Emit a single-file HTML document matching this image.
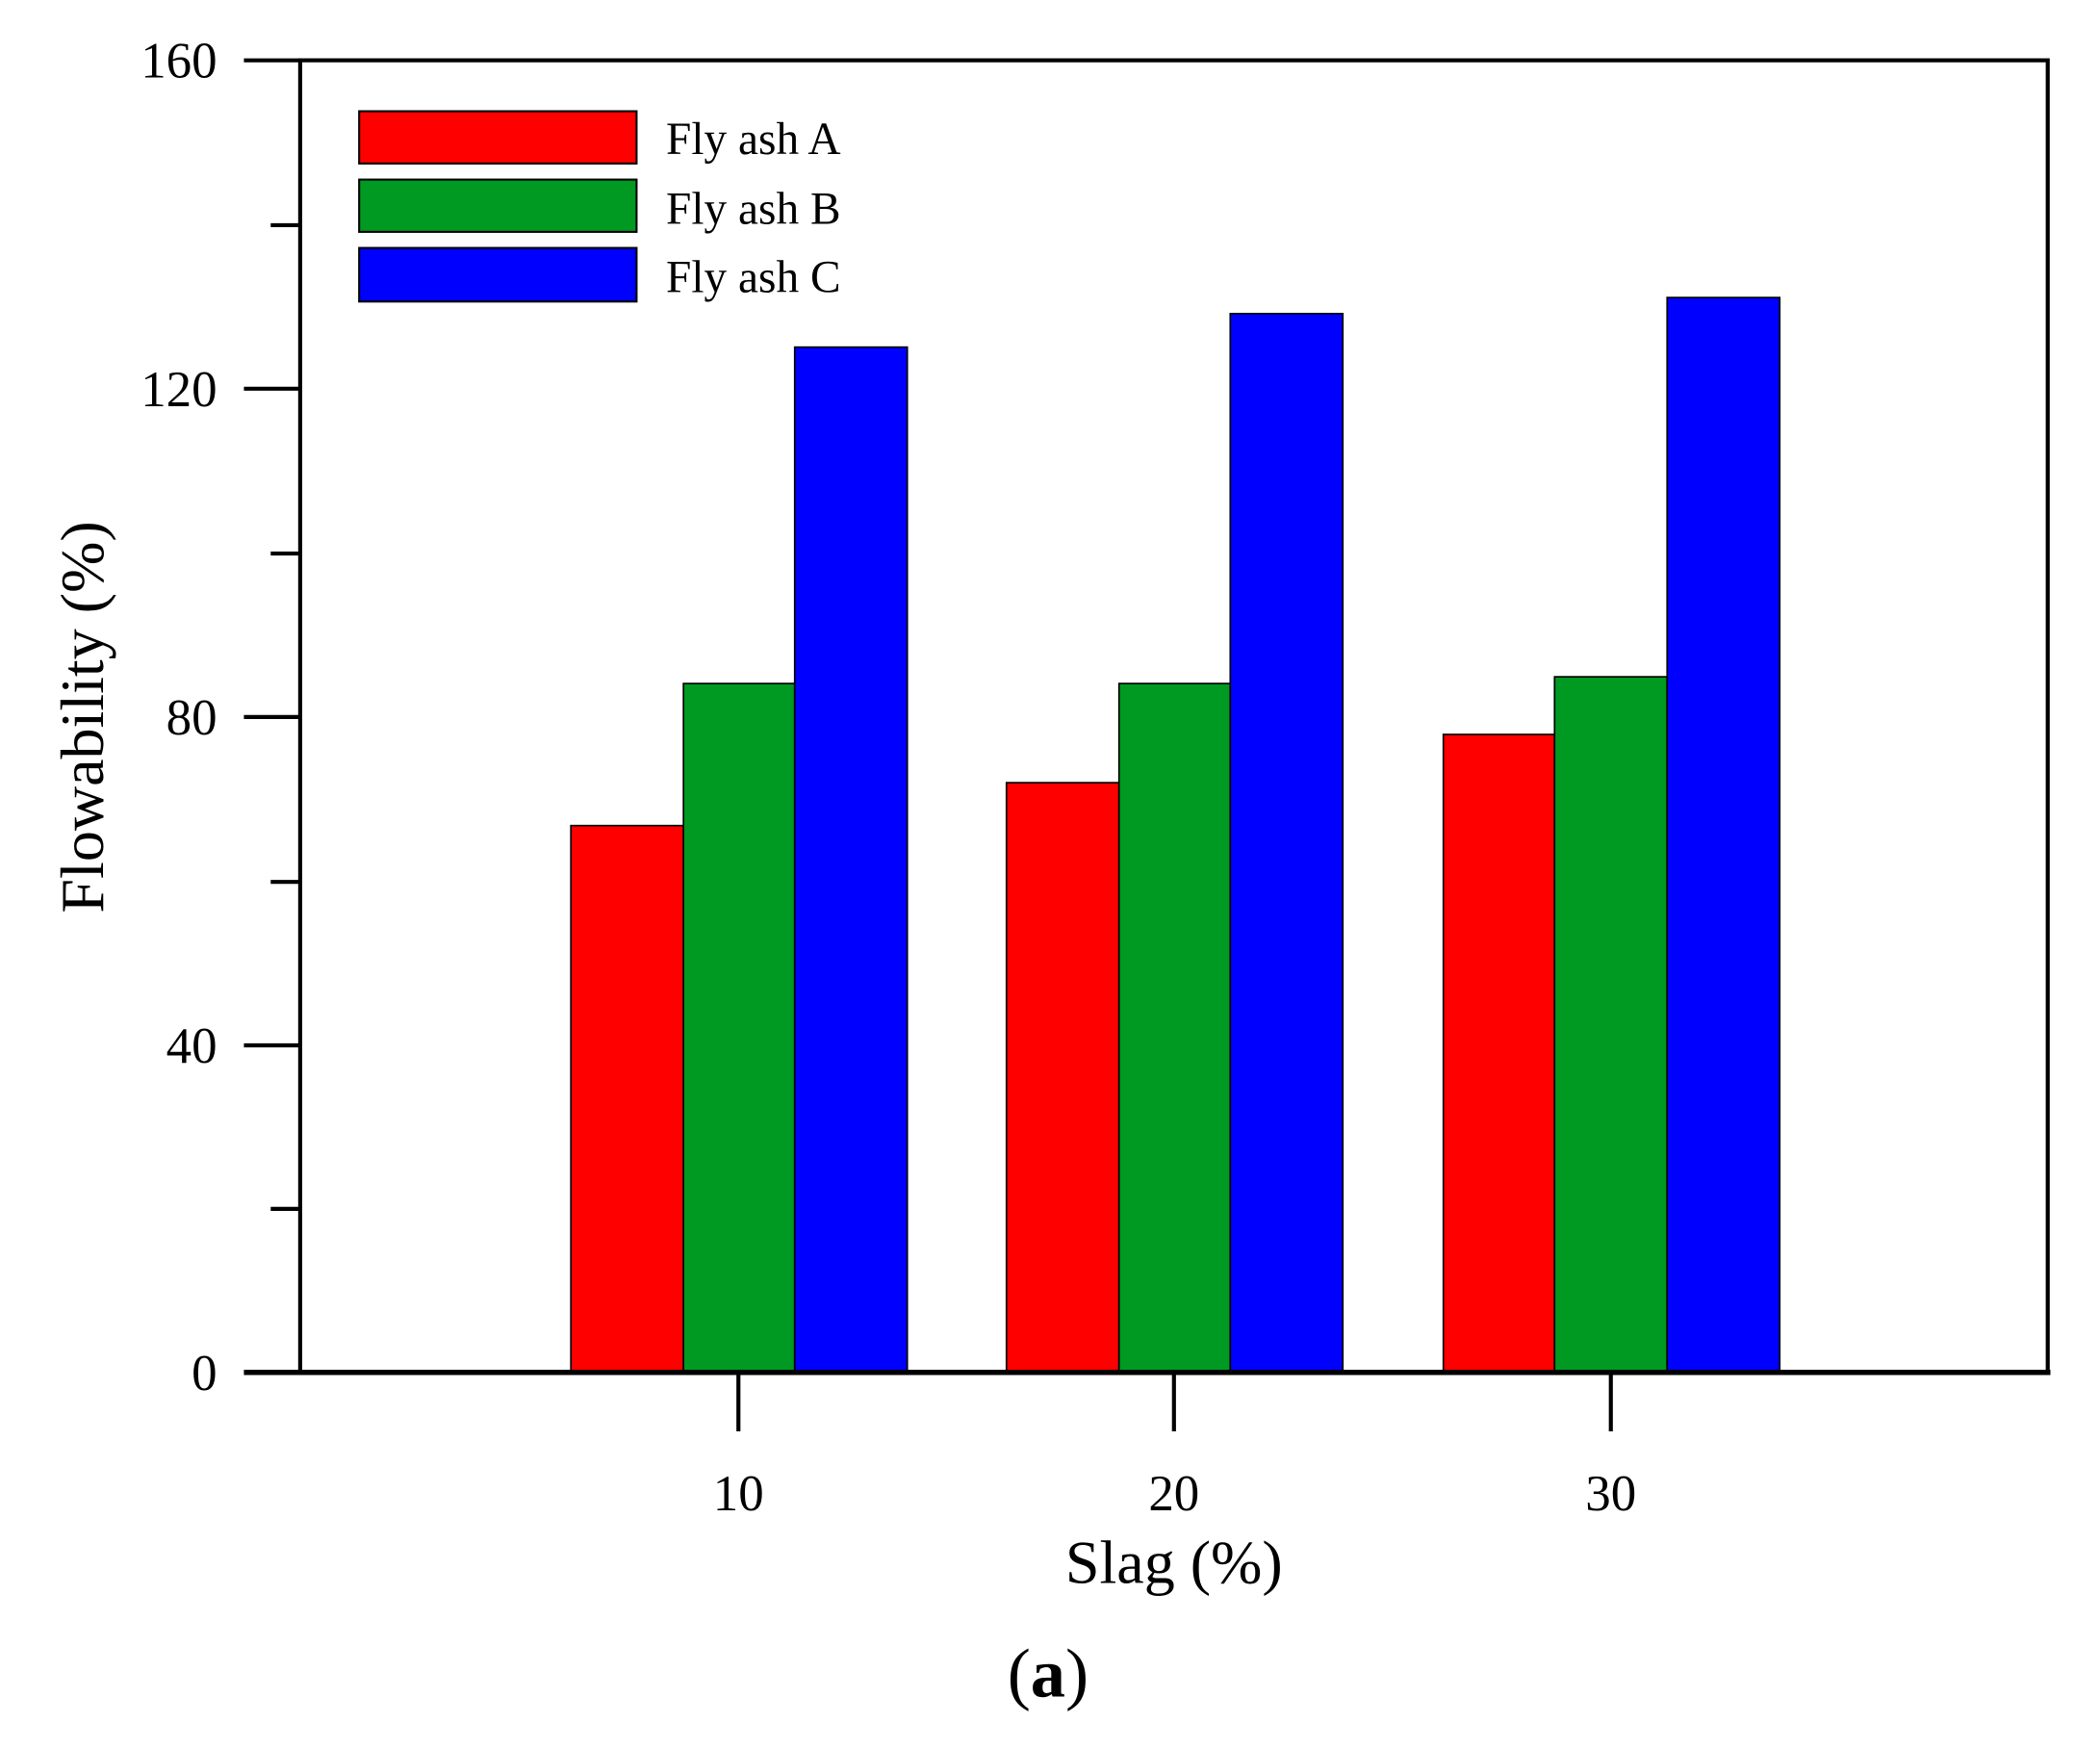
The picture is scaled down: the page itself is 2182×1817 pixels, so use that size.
<!DOCTYPE html>
<html><head><meta charset="utf-8"><style>html,body{margin:0;padding:0;background:#fff}svg{display:block}</style></head>
<body>
<svg width="2182" height="1817" viewBox="0 0 1567 1305" preserveAspectRatio="none" xmlns="http://www.w3.org/2000/svg" font-family="Liberation Serif, serif">
<rect width="1567" height="1305" fill="#fff"/>
<g stroke="#000" stroke-width="1.2">
<rect x="426" y="616" width="84" height="408" fill="#ff0000"/>
<rect x="510" y="510" width="83" height="514" fill="#009a22"/>
<rect x="593" y="259" width="84" height="765" fill="#0000ff"/>
<rect x="751" y="584" width="84" height="440" fill="#ff0000"/>
<rect x="835" y="510" width="83" height="514" fill="#009a22"/>
<rect x="918" y="234" width="84" height="790" fill="#0000ff"/>
<rect x="1077" y="548" width="83" height="476" fill="#ff0000"/>
<rect x="1160" y="505" width="84" height="519" fill="#009a22"/>
<rect x="1244" y="222" width="84" height="802" fill="#0000ff"/>
</g>
<rect x="224" y="45" width="1304" height="979" fill="none" stroke="#000" stroke-width="3"/>
<line x1="182" y1="1024" x2="1530" y2="1024" stroke="#000" stroke-width="4"/>
<g stroke="#000" stroke-width="3">
<line x1="182" y1="45" x2="224" y2="45"/>
<line x1="182" y1="290" x2="224" y2="290"/>
<line x1="182" y1="535" x2="224" y2="535"/>
<line x1="182" y1="780" x2="224" y2="780"/>
<line x1="202" y1="168" x2="224" y2="168"/>
<line x1="202" y1="413" x2="224" y2="413"/>
<line x1="202" y1="658" x2="224" y2="658"/>
<line x1="202" y1="902" x2="224" y2="902"/>
<line x1="551" y1="1024" x2="551" y2="1068"/>
<line x1="876" y1="1024" x2="876" y2="1068"/>
<line x1="1202" y1="1024" x2="1202" y2="1068"/>
</g>
<g font-size="38" text-anchor="end" fill="#000">
<text x="162" y="58">160</text>
<text x="162" y="303">120</text>
<text x="162" y="548">80</text>
<text x="162" y="793">40</text>
<text x="162" y="1037">0</text>
</g>
<g font-size="38" text-anchor="middle" fill="#000">
<text x="551" y="1127">10</text>
<text x="876" y="1127">20</text>
<text x="1202" y="1127">30</text>
</g>
<text x="876" y="1181" font-size="46" text-anchor="middle">Slag (%)</text>
<text transform="translate(77,535) rotate(-90)" font-size="46" text-anchor="middle">Flowability (%)</text>
<text x="782" y="1266" font-size="52" text-anchor="middle">(<tspan font-weight="bold">a</tspan>)</text>
<g stroke="#000" stroke-width="1.5">
<rect x="268" y="83" width="207" height="39" fill="#ff0000"/>
<rect x="268" y="134" width="207" height="39" fill="#009a22"/>
<rect x="268" y="185" width="207" height="40" fill="#0000ff"/>
</g>
<g font-size="34" fill="#000">
<text x="497" y="115">Fly ash A</text>
<text x="497" y="167">Fly ash B</text>
<text x="497" y="218">Fly ash C</text>
</g>
</svg>
</body></html>
